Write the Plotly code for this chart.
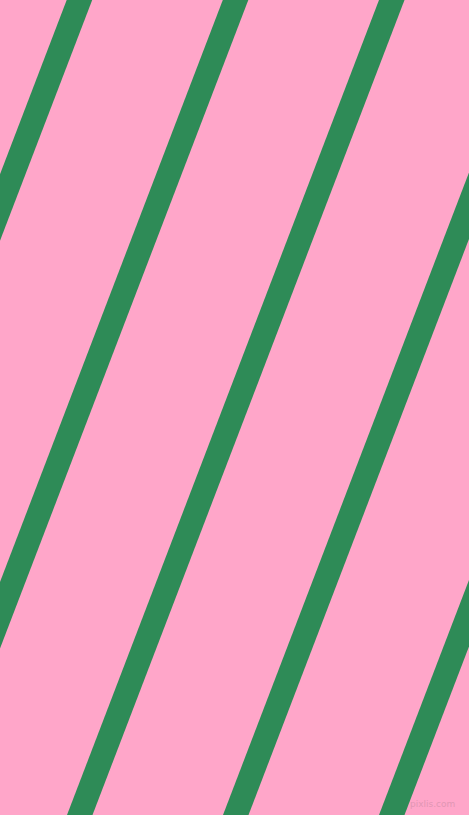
import plotly.graph_objects as go

# canvas size in pixels (also the axis ranges)
width_px = 469
height_px = 815

# left edge of each green stripe where it meets the top (y=0) and bottom (y=815)
stripe_top_x = [66.7, 222.8, 379.0, 535.0, 691.0]
stripe_bottom_x = [-245.3, -89.2, 67.0, 223.0, 379.0]
stripe_width = 25.5

pink = '#FFA6C9'
sea_green = '#2E8B57'

fig = go.Figure()

# one filled polygon per stripe
for top, bottom in zip(stripe_top_x, stripe_bottom_x):
    fig.add_trace(go.Scatter(
        x=[top, top + stripe_width, bottom + stripe_width, bottom, top],
        y=[0, 0, height_px, height_px, 0],
        mode='lines',
        fill='toself',
        fillcolor=sea_green,
        line=dict(width=0, color=sea_green),
        hoverinfo='skip',
        showlegend=False
    ))

fig.add_annotation(
    x=457, y=804, xanchor='right', text='pixlis.com', showarrow=False,
    font=dict(family='DejaVu Sans', size=9, color='#E196B4')
)

fig.update_layout(
    width=width_px,
    height=height_px,
    margin=dict(l=0, r=0, t=0, b=0),
    paper_bgcolor=pink,
    plot_bgcolor=pink,
    xaxis=dict(range=[0, width_px], visible=False, fixedrange=True),
    yaxis=dict(range=[height_px, 0], visible=False, fixedrange=True),
)

# drop the default page margin so the chart fills the window
fig.write_html("out.html", config={'displayModeBar': False},
               post_script="document.body.style.margin='0';")
